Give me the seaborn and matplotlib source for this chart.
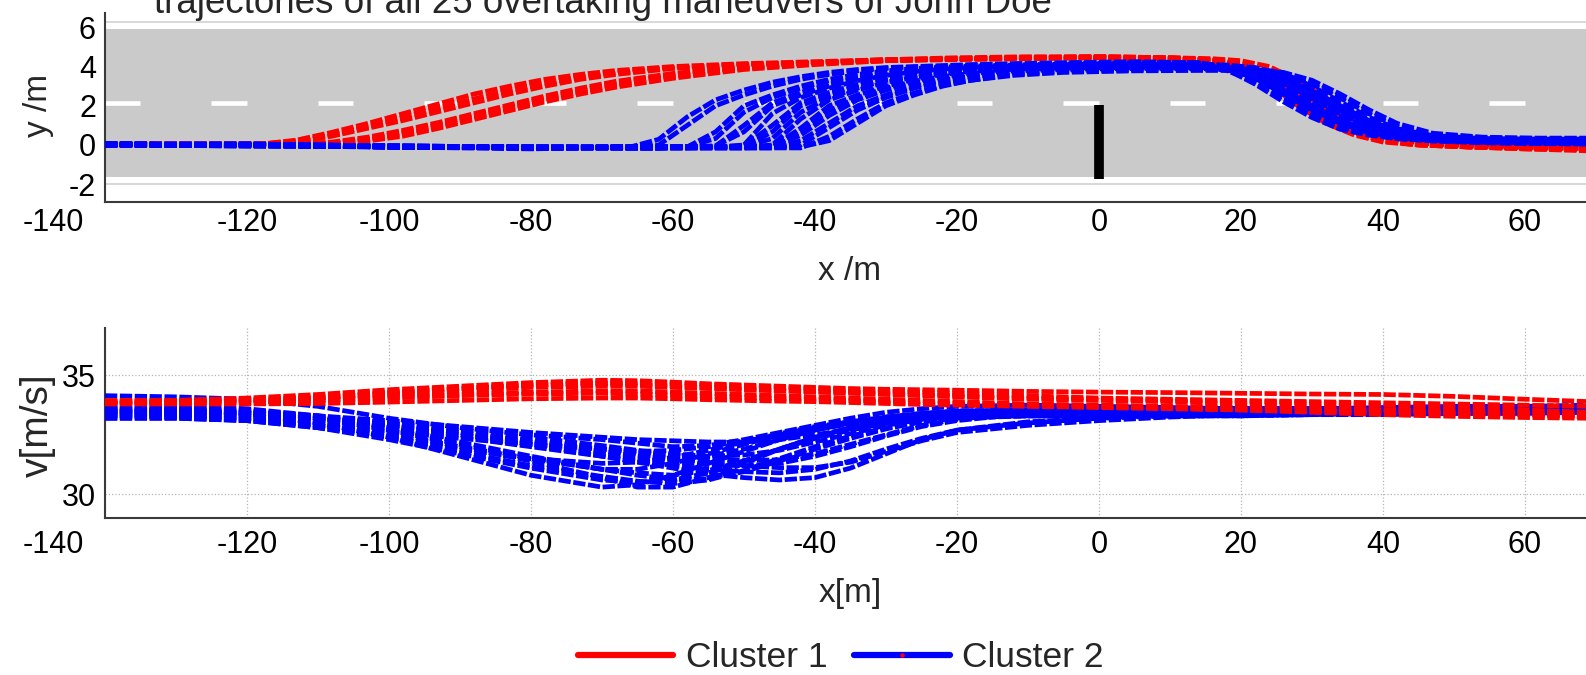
import matplotlib
matplotlib.use("Agg")
import numpy as np
import pandas as pd
import matplotlib.pyplot as plt
from matplotlib.lines import Line2D
from matplotlib.transforms import ScaledTranslation
import seaborn as sns

sns.set_style("white")
plt.rcParams["font.family"] = ["Liberation Sans", "DejaVu Sans"]
plt.rcParams["axes.unicode_minus"] = False

TITLE = "trajectories of all 25 overtaking maneuvers of John Doe"
CLUSTERS = ["Cluster 1", "Cluster 2"]
PALETTE = {"Cluster 1": "#ff0000", "Cluster 2": "#0000ff"}
X_TICKS = [-140, -120, -100, -80, -60, -40, -20, 0, 20, 40, 60]
LATERAL_TICKS = [-2, 0, 2, 4, 6]
SPEED_TICKS = [30, 35]

# lateral position y [m] of the cluster-1 maneuvers, sampled at RED_X
RED_X = [-140, -118, -113, -108, -103, -98, -93, -88, -83, -78, -73, -68, -60, -50, -40,
         -30, -20, -10, 0, 10, 16, 20, 24, 28, 32, 36, 40, 45, 52, 60, 69]
RED_LATERAL = [
    [0.05, 0.05, 0.25, 0.65, 1.1, 1.6, 2.1, 2.6, 3.0, 3.35, 3.6, 3.8, 4.0, 4.15, 4.25, 4.35, 4.4, 4.45, 4.45, 4.4, 4.3, 4.0, 3.3, 2.3, 1.3, 0.6, 0.2, 0.0, -0.1, -0.15, -0.2],
    [0.0, 0.05, 0.2, 0.5, 0.95, 1.4, 1.9, 2.35, 2.8, 3.15, 3.45, 3.7, 3.95, 4.1, 4.2, 4.3, 4.35, 4.4, 4.45, 4.4, 4.35, 4.1, 3.5, 2.5, 1.5, 0.8, 0.35, 0.1, -0.05, -0.1, -0.15],
    [0.05, 0.05, 0.15, 0.45, 0.85, 1.25, 1.7, 2.15, 2.6, 3.0, 3.35, 3.6, 3.9, 4.1, 4.2, 4.3, 4.4, 4.45, 4.5, 4.45, 4.35, 4.05, 3.4, 2.4, 1.4, 0.7, 0.3, 0.05, -0.1, -0.15, -0.25],
    [0.05, 0.05, 0.05, 0.15, 0.4, 0.75, 1.15, 1.6, 2.05, 2.5, 2.9, 3.25, 3.65, 4.0, 4.2, 4.35, 4.4, 4.45, 4.45, 4.4, 4.3, 3.95, 3.2, 2.2, 1.2, 0.55, 0.2, 0.0, -0.1, -0.2, -0.25],
    [0.0, 0.0, 0.05, 0.1, 0.3, 0.65, 1.05, 1.5, 1.95, 2.4, 2.8, 3.15, 3.6, 3.95, 4.2, 4.35, 4.45, 4.5, 4.5, 4.45, 4.35, 4.1, 3.6, 2.8, 1.8, 1.0, 0.45, 0.1, -0.05, -0.15, -0.2],
    [0.05, 0.05, 0.05, 0.1, 0.25, 0.55, 0.95, 1.4, 1.85, 2.3, 2.7, 3.05, 3.5, 3.9, 4.15, 4.3, 4.4, 4.45, 4.5, 4.45, 4.4, 4.3, 4.0, 3.3, 2.4, 1.5, 0.8, 0.3, 0.05, -0.1, -0.15],
    [0.0, 0.05, 0.05, 0.1, 0.2, 0.45, 0.85, 1.3, 1.75, 2.2, 2.6, 2.95, 3.4, 3.85, 4.1, 4.3, 4.4, 4.45, 4.45, 4.4, 4.3, 3.9, 3.1, 2.0, 1.1, 0.5, 0.15, 0.0, -0.1, -0.2, -0.3],
]

# lateral position y [m] of the cluster-2 maneuvers, sampled at BLUE_X
BLUE_X = [-140, -120, -100, -80, -66, -62, -58, -54, -50, -46, -42, -38, -34, -30, -26, -22,
          -18, -12, -5, 5, 14, 18, 22, 26, 30, 34, 38, 42, 47, 54, 62, 69]
BLUE_LATERAL = [
    [0.05, 0.0, -0.1, -0.15, -0.1, 0.29, 1.43, 2.3, 2.8, 3.2, 3.48, 3.7, 3.85, 3.95, 4.0, 4.05, 4.1, 4.15, 4.2, 4.25, 4.2, 3.85, 3.1, 2.2, 1.4, 0.8, 0.5, 0.32, 0.2, 0.12, 0.1, 0.1],
    [0.0, 0.05, -0.05, -0.1, -0.1, 0.0, 1.0, 2.0, 2.55, 3.0, 3.35, 3.6, 3.78, 3.9, 3.97, 4.02, 4.07, 4.12, 4.15, 4.2, 4.15, 3.9, 3.4, 2.6, 1.8, 1.1, 0.63, 0.38, 0.23, 0.17, 0.15, 0.15],
    [0.05, 0.0, -0.1, -0.15, -0.15, -0.15, -0.1, 0.67, 2.0, 2.55, 3.0, 3.35, 3.6, 3.78, 3.9, 3.97, 4.02, 4.07, 4.1, 4.15, 4.1, 3.95, 3.55, 2.8, 2.0, 1.25, 0.72, 0.42, 0.25, 0.12, 0.08, 0.05],
    [0.0, -0.05, -0.1, -0.2, -0.1, -0.1, -0.1, 0.33, 1.67, 2.42, 2.9, 3.28, 3.55, 3.74, 3.87, 3.95, 4.0, 4.05, 4.08, 4.1, 4.05, 3.8, 3.2, 2.4, 1.6, 0.95, 0.55, 0.33, 0.22, 0.15, 0.1, 0.1],
    [0.05, 0.0, -0.1, -0.15, -0.15, -0.15, -0.1, -0.05, 1.0, 2.15, 2.68, 3.1, 3.42, 3.65, 3.8, 3.92, 3.99, 4.07, 4.13, 4.2, 4.2, 4.0, 3.68, 3.0, 2.2, 1.42, 0.83, 0.48, 0.3, 0.22, 0.2, 0.2],
    [0.05, 0.05, -0.05, -0.1, -0.1, -0.1, -0.1, -0.05, 0.67, 2.0, 2.55, 3.0, 3.35, 3.6, 3.76, 3.86, 3.93, 3.98, 4.02, 4.05, 4.05, 4.0, 3.75, 3.2, 2.4, 1.6, 0.95, 0.55, 0.3, 0.17, 0.12, 0.1],
    [0.0, 0.0, -0.1, -0.15, -0.15, -0.15, -0.1, -0.1, 0.0, 1.6, 2.42, 2.9, 3.28, 3.55, 3.74, 3.87, 3.95, 4.03, 4.1, 4.15, 4.1, 3.88, 3.4, 2.6, 1.8, 1.1, 0.63, 0.38, 0.23, 0.17, 0.15, 0.15],
    [0.05, 0.0, -0.1, -0.15, -0.1, -0.1, -0.1, -0.1, -0.05, 1.0, 2.15, 2.68, 3.1, 3.42, 3.65, 3.8, 3.92, 4.0, 4.06, 4.1, 4.1, 4.05, 3.85, 3.4, 2.6, 1.8, 1.1, 0.63, 0.35, 0.22, 0.2, 0.2],
    [0.0, 0.0, -0.05, -0.1, -0.15, -0.15, -0.1, -0.1, -0.1, 0.67, 2.0, 2.55, 3.0, 3.35, 3.6, 3.75, 3.85, 3.92, 3.97, 4.0, 4.0, 3.9, 3.5, 2.8, 2.0, 1.25, 0.72, 0.42, 0.25, 0.15, 0.12, 0.1],
    [0.05, 0.05, -0.05, -0.15, -0.1, -0.1, -0.1, -0.1, -0.1, 0.33, 1.67, 2.42, 2.9, 3.28, 3.55, 3.74, 3.87, 3.98, 4.05, 4.1, 4.1, 4.08, 3.95, 3.55, 2.8, 2.0, 1.25, 0.72, 0.4, 0.27, 0.25, 0.25],
    [0.0, -0.05, -0.1, -0.15, -0.15, -0.15, -0.15, -0.1, -0.1, 0.0, 1.33, 2.3, 2.8, 3.2, 3.46, 3.65, 3.76, 3.86, 3.92, 3.95, 3.95, 3.85, 3.55, 2.95, 2.2, 1.42, 0.83, 0.48, 0.27, 0.12, 0.07, 0.05],
    [0.05, 0.0, -0.1, -0.15, -0.1, -0.1, -0.1, -0.1, -0.1, -0.1, 0.86, 2.0, 2.55, 3.0, 3.35, 3.6, 3.75, 3.88, 3.97, 4.03, 4.05, 4.05, 3.92, 3.65, 3.0, 2.2, 1.42, 0.83, 0.48, 0.33, 0.3, 0.3],
    [0.0, 0.0, -0.1, -0.15, -0.15, -0.15, -0.15, -0.15, -0.15, -0.1, 0.75, 1.75, 2.42, 2.9, 3.25, 3.5, 3.65, 3.78, 3.86, 3.9, 3.9, 3.85, 3.65, 3.15, 2.4, 1.6, 0.95, 0.55, 0.3, 0.18, 0.15, 0.15],
    [0.05, 0.0, -0.05, -0.1, -0.1, -0.1, -0.1, -0.1, -0.1, -0.1, 0.5, 1.5, 2.3, 2.8, 3.2, 3.46, 3.65, 3.82, 3.92, 3.98, 4.0, 3.97, 3.8, 3.35, 2.6, 1.8, 1.1, 0.63, 0.35, 0.23, 0.2, 0.2],
    [0.0, -0.05, -0.1, -0.15, -0.15, -0.15, -0.15, -0.15, -0.15, -0.15, 0.22, 1.11, 2.0, 2.55, 3.0, 3.3, 3.5, 3.68, 3.78, 3.83, 3.85, 3.85, 3.8, 3.6, 3.1, 2.4, 1.6, 0.95, 0.5, 0.35, 0.3, 0.3],
    [0.05, 0.0, -0.1, -0.1, -0.1, -0.1, -0.1, -0.1, -0.1, -0.1, 0.0, 0.89, 1.78, 2.42, 2.9, 3.25, 3.5, 3.72, 3.85, 3.92, 3.95, 3.85, 3.5, 2.8, 2.0, 1.25, 0.72, 0.42, 0.25, 0.14, 0.1, 0.1],
    [0.0, 0.0, -0.1, -0.15, -0.15, -0.15, -0.15, -0.15, -0.15, -0.15, -0.15, 0.44, 1.33, 2.15, 2.65, 3.05, 3.3, 3.55, 3.7, 3.78, 3.8, 3.8, 3.7, 3.4, 2.75, 2.0, 1.25, 0.72, 0.42, 0.25, 0.2, 0.2],
    [0.05, 0.0, -0.05, -0.1, -0.1, -0.1, -0.1, -0.1, -0.1, -0.1, -0.1, 0.22, 1.11, 2.0, 2.55, 3.0, 3.3, 3.6, 3.77, 3.86, 3.9, 3.9, 3.85, 3.7, 3.3, 2.6, 1.8, 1.1, 0.6, 0.4, 0.35, 0.35],
]

# speed v [m/s] of every maneuver, sampled at SPEED_X
SPEED_X = [-140, -130, -120, -110, -100, -90, -80, -70, -65, -60, -55, -50, -45, -40, -35,
           -30, -25, -20, -10, 0, 10, 20, 30, 40, 50, 60, 69]
RED_SPEED = [
    [33.9, 33.95, 34.05, 34.2, 34.4, 34.55, 34.7, 34.8, 34.78, 34.72, 34.65, 34.6, 34.55, 34.5, 34.45, 34.42, 34.4, 34.38, 34.33, 34.3, 34.28, 34.25, 34.22, 34.2, 34.12, 34.0, 33.9],
    [33.9, 33.9, 33.95, 34.05, 34.2, 34.35, 34.5, 34.55, 34.55, 34.5, 34.45, 34.4, 34.35, 34.3, 34.25, 34.2, 34.15, 34.1, 34.0, 33.95, 33.9, 33.8, 33.7, 33.55, 33.45, 33.35, 33.25],
    [33.85, 33.85, 33.88, 33.95, 34.05, 34.15, 34.22, 34.25, 34.22, 34.18, 34.12, 34.08, 34.03, 34.0, 33.95, 33.9, 33.86, 33.82, 33.75, 33.7, 33.62, 33.55, 33.45, 33.35, 33.28, 33.23, 33.2],
    [33.95, 33.95, 34.0, 34.1, 34.3, 34.45, 34.6, 34.65, 34.62, 34.55, 34.48, 34.42, 34.38, 34.33, 34.3, 34.25, 34.2, 34.15, 34.05, 34.0, 33.95, 33.9, 33.85, 33.75, 33.65, 33.55, 33.45],
    [33.8, 33.8, 33.8, 33.82, 33.88, 33.95, 34.02, 34.05, 34.05, 34.02, 33.98, 33.95, 33.92, 33.9, 33.86, 33.82, 33.78, 33.75, 33.7, 33.65, 33.6, 33.55, 33.5, 33.45, 33.4, 33.35, 33.3],
    [33.9, 33.9, 33.95, 34.05, 34.25, 34.45, 34.6, 34.7, 34.7, 34.65, 34.6, 34.55, 34.5, 34.45, 34.4, 34.35, 34.3, 34.25, 34.15, 34.05, 34.0, 33.95, 33.9, 33.85, 33.8, 33.75, 33.7],
    [33.85, 33.85, 33.85, 33.95, 34.1, 34.2, 34.3, 34.35, 34.35, 34.3, 34.25, 34.2, 34.15, 34.1, 34.05, 34.0, 33.95, 33.9, 33.8, 33.75, 33.7, 33.65, 33.6, 33.55, 33.5, 33.45, 33.4],
]
BLUE_SPEED = [
    [34.15, 34.1, 34.0, 33.7, 33.2, 32.8, 32.5, 32.3, 32.15, 32.0, 32.05, 32.3, 32.6, 32.9, 33.2, 33.45, 33.6, 33.7, 33.75, 33.7, 33.65, 33.6, 33.6, 33.65, 33.7, 33.7, 33.75],
    [33.6, 33.55, 33.4, 33.0, 32.4, 31.6, 30.8, 30.3, 30.4, 30.8, 31.3, 31.8, 32.3, 32.7, 33.0, 33.2, 33.35, 33.4, 33.45, 33.45, 33.45, 33.5, 33.5, 33.5, 33.55, 33.55, 33.6],
    [33.4, 33.4, 33.3, 33.0, 32.6, 32.0, 31.4, 30.7, 30.3, 30.3, 30.7, 31.3, 31.9, 32.4, 32.8, 33.1, 33.25, 33.35, 33.4, 33.4, 33.35, 33.35, 33.4, 33.45, 33.5, 33.5, 33.5],
    [33.5, 33.45, 33.4, 33.2, 32.9, 32.5, 32.1, 31.6, 31.35, 31.1, 30.85, 30.7, 30.6, 30.7, 31.1, 31.7, 32.3, 32.7, 33.0, 33.2, 33.35, 33.45, 33.45, 33.45, 33.5, 33.55, 33.55],
    [33.7, 33.65, 33.55, 33.2, 32.7, 32.1, 31.5, 31.05, 31.05, 31.3, 31.7, 32.1, 32.5, 32.8, 33.05, 33.25, 33.4, 33.5, 33.55, 33.6, 33.6, 33.6, 33.6, 33.6, 33.65, 33.65, 33.7],
    [33.3, 33.3, 33.2, 32.9, 32.5, 32.0, 31.5, 31.05, 30.9, 30.8, 31.0, 31.4, 31.9, 32.4, 32.8, 33.05, 33.2, 33.3, 33.35, 33.35, 33.35, 33.4, 33.4, 33.45, 33.45, 33.5, 33.5],
    [33.5, 33.5, 33.4, 33.2, 32.9, 32.5, 32.1, 31.7, 31.5, 31.35, 31.25, 31.2, 31.3, 31.6, 32.0, 32.45, 32.85, 33.1, 33.4, 33.5, 33.5, 33.5, 33.5, 33.5, 33.55, 33.6, 33.6],
    [33.2, 33.2, 33.1, 32.8, 32.3, 31.7, 31.1, 30.6, 30.5, 30.6, 30.9, 31.4, 31.9, 32.35, 32.7, 33.0, 33.15, 33.25, 33.3, 33.3, 33.3, 33.35, 33.4, 33.4, 33.45, 33.5, 33.5],
    [33.6, 33.6, 33.5, 33.3, 33.0, 32.6, 32.2, 31.8, 31.6, 31.5, 31.6, 31.9, 32.3, 32.7, 33.0, 33.25, 33.4, 33.5, 33.55, 33.55, 33.55, 33.55, 33.55, 33.6, 33.6, 33.6, 33.65],
    [33.4, 33.35, 33.3, 33.1, 32.8, 32.4, 32.0, 31.6, 31.4, 31.2, 31.05, 30.95, 30.9, 31.05, 31.4, 31.9, 32.35, 32.7, 33.05, 33.2, 33.3, 33.4, 33.4, 33.45, 33.45, 33.5, 33.5],
    [33.3, 33.25, 33.1, 32.8, 32.4, 31.9, 31.5, 31.3, 31.35, 31.55, 31.85, 32.2, 32.55, 32.85, 33.05, 33.2, 33.3, 33.35, 33.4, 33.4, 33.4, 33.4, 33.45, 33.45, 33.5, 33.5, 33.5],
    [33.5, 33.5, 33.4, 33.2, 33.0, 32.7, 32.4, 32.05, 31.85, 31.7, 31.6, 31.65, 31.85, 32.2, 32.55, 32.9, 33.15, 33.3, 33.45, 33.5, 33.5, 33.5, 33.5, 33.55, 33.55, 33.6, 33.6],
    [33.8, 33.75, 33.6, 33.3, 32.8, 32.2, 31.6, 31.05, 30.8, 30.62, 30.65, 30.95, 31.4, 31.9, 32.35, 32.75, 33.05, 33.25, 33.45, 33.55, 33.6, 33.6, 33.6, 33.6, 33.65, 33.65, 33.7],
    [33.4, 33.4, 33.3, 33.1, 32.85, 32.5, 32.2, 31.9, 31.7, 31.5, 31.35, 31.2, 31.12, 31.12, 31.35, 31.8, 32.25, 32.6, 32.9, 33.1, 33.25, 33.35, 33.45, 33.45, 33.5, 33.5, 33.55],
    [33.2, 33.2, 33.1, 32.9, 32.65, 32.35, 32.1, 31.9, 31.8, 31.85, 32.0, 32.25, 32.5, 32.75, 32.95, 33.1, 33.2, 33.25, 33.3, 33.3, 33.3, 33.3, 33.35, 33.35, 33.4, 33.4, 33.45],
    [33.6, 33.55, 33.45, 33.25, 32.95, 32.6, 32.25, 31.95, 31.8, 31.65, 31.5, 31.42, 31.45, 31.7, 32.1, 32.5, 32.9, 33.15, 33.45, 33.55, 33.6, 33.6, 33.6, 33.6, 33.6, 33.65, 33.65],
    [33.3, 33.3, 33.2, 32.9, 32.4, 31.8, 31.2, 30.75, 30.55, 30.45, 30.6, 31.0, 31.5, 32.0, 32.45, 32.8, 33.05, 33.2, 33.3, 33.3, 33.3, 33.3, 33.35, 33.4, 33.4, 33.45, 33.45],
    [33.5, 33.5, 33.45, 33.3, 33.1, 32.85, 32.6, 32.4, 32.3, 32.25, 32.2, 32.2, 32.3, 32.5, 32.75, 33.0, 33.2, 33.35, 33.5, 33.55, 33.55, 33.55, 33.55, 33.6, 33.6, 33.6, 33.6],
]


def long_form(xs, rows, cluster, first_id):
    frames = []
    for i, row in enumerate(rows):
        frames.append(pd.DataFrame({"x": xs, "value": row,
                                    "cluster": cluster, "maneuver": first_id + i}))
    return frames


n_red = len(RED_LATERAL)
lateral = pd.concat(long_form(RED_X, RED_LATERAL, "Cluster 1", 0)
                    + long_form(BLUE_X, BLUE_LATERAL, "Cluster 2", n_red), ignore_index=True)
speed = pd.concat(long_form(SPEED_X, RED_SPEED, "Cluster 1", 0)
                  + long_form(SPEED_X, BLUE_SPEED, "Cluster 2", n_red), ignore_index=True)

fig = plt.figure(figsize=(15.86, 6.75), dpi=100)
ax_top = fig.add_axes([0.0662, 0.7007, 0.9338, 0.2800])
ax_bot = fig.add_axes([0.0662, 0.2326, 0.9338, 0.2815])

XLIM = (-140, 68.6)
TRACE = dict(linewidth=3.4, linestyle=(0, (2.6, 0.55)))
TICK_FONT = 22

# ---- road scene ----
ax_top.axhspan(-1.63, 5.92, color="#cacaca", lw=0, zorder=0)
ax_top.axhline(6.25, color="#d2d2d2", lw=1.2, zorder=0)
ax_top.axhline(-1.98, color="#d2d2d2", lw=1.2, zorder=0)
dash_start = np.arange(-140, 69, 15)
ax_top.hlines(np.full(dash_start.shape, 2.14), dash_start, dash_start + 5,
              color="white", lw=3.3, zorder=1)
ax_top.vlines(0, -1.73, 2.04, color="black", lw=7, zorder=5)

sns.lineplot(data=lateral, x="x", y="value", hue="cluster", hue_order=CLUSTERS,
             units="maneuver", estimator=None, palette=PALETTE, legend=False,
             ax=ax_top, zorder=3, **TRACE)

# ---- speed profiles ----
sns.lineplot(data=speed, x="x", y="value", hue="cluster", hue_order=CLUSTERS[::-1],
             units="maneuver", estimator=None, palette=PALETTE, legend=False,
             ax=ax_bot, zorder=3, **TRACE)

for ax in (ax_top, ax_bot):
    ax.set_xlim(*XLIM)
    ax.set_xticks(X_TICKS)
    for side in ("top", "right"):
        ax.spines[side].set_visible(False)
    for side in ("left", "bottom"):
        ax.spines[side].set_color("#3a3a3a")
        ax.spines[side].set_linewidth(1.5)
    ax.tick_params(axis="both", labelsize=TICK_FONT, colors="#3a3a3a", labelcolor="black")

ax_top.set_ylim(-2.91, 6.73)
ax_top.set_yticks(LATERAL_TICKS)
ax_top.tick_params(axis="y", length=0, pad=6.5)
ax_top.tick_params(axis="x", direction="in", length=11, width=1, pad=4.5)
ax_top.grid(False)

ax_bot.set_ylim(29, 37)
ax_bot.set_yticks(SPEED_TICKS)
ax_bot.tick_params(axis="y", direction="in", length=11, width=1, pad=6.5)
ax_bot.tick_params(axis="x", direction="in", length=11, width=1, pad=9)
ax_bot.set_axisbelow(True)
ax_bot.grid(True, linestyle=":", color="#b5b5b5", linewidth=0.9)

# the first x label sits left of the axis corner
fig.canvas.draw()
for ax in (ax_top, ax_bot):
    first = ax.get_xticklabels()[0]
    first.set_transform(first.get_transform()
                        + ScaledTranslation(-0.52, 0, fig.dpi_scale_trans))

ax_top.set_xlabel("x /m", fontsize=24, va="center")
ax_top.xaxis.set_label_coords(0.503, -0.37)
ax_top.set_ylabel("y /m", fontsize=24, va="center")
ax_top.yaxis.set_label_coords(-0.0452, 0.513)

ax_bot.set_xlabel("x[m]", fontsize=24, va="center")
ax_bot.xaxis.set_label_coords(0.503, -0.395)
ax_bot.set_ylabel("v[m/s]", fontsize=28, va="center")
ax_bot.yaxis.set_label_coords(-0.0452, 0.49)

fig.text(0.380, 1 - 13 / 675, TITLE, ha="center", va="baseline", fontsize=26.5)

handles = [
    Line2D([], [], color=PALETTE["Cluster 1"], lw=4.5),
    Line2D([], [], color=PALETTE["Cluster 2"], lw=4.5, marker="o", markersize=2.2,
           markerfacecolor="#ff0000", markeredgecolor="#ff0000"),
]
fig.legend(handles, CLUSTERS, loc="center", bbox_to_anchor=(0.53, 0.026), ncol=2,
           frameon=False, fontsize=25.5, handlelength=2.7, handletextpad=0.35,
           columnspacing=0.75, numpoints=1)

fig.savefig("out.png", dpi=100)
